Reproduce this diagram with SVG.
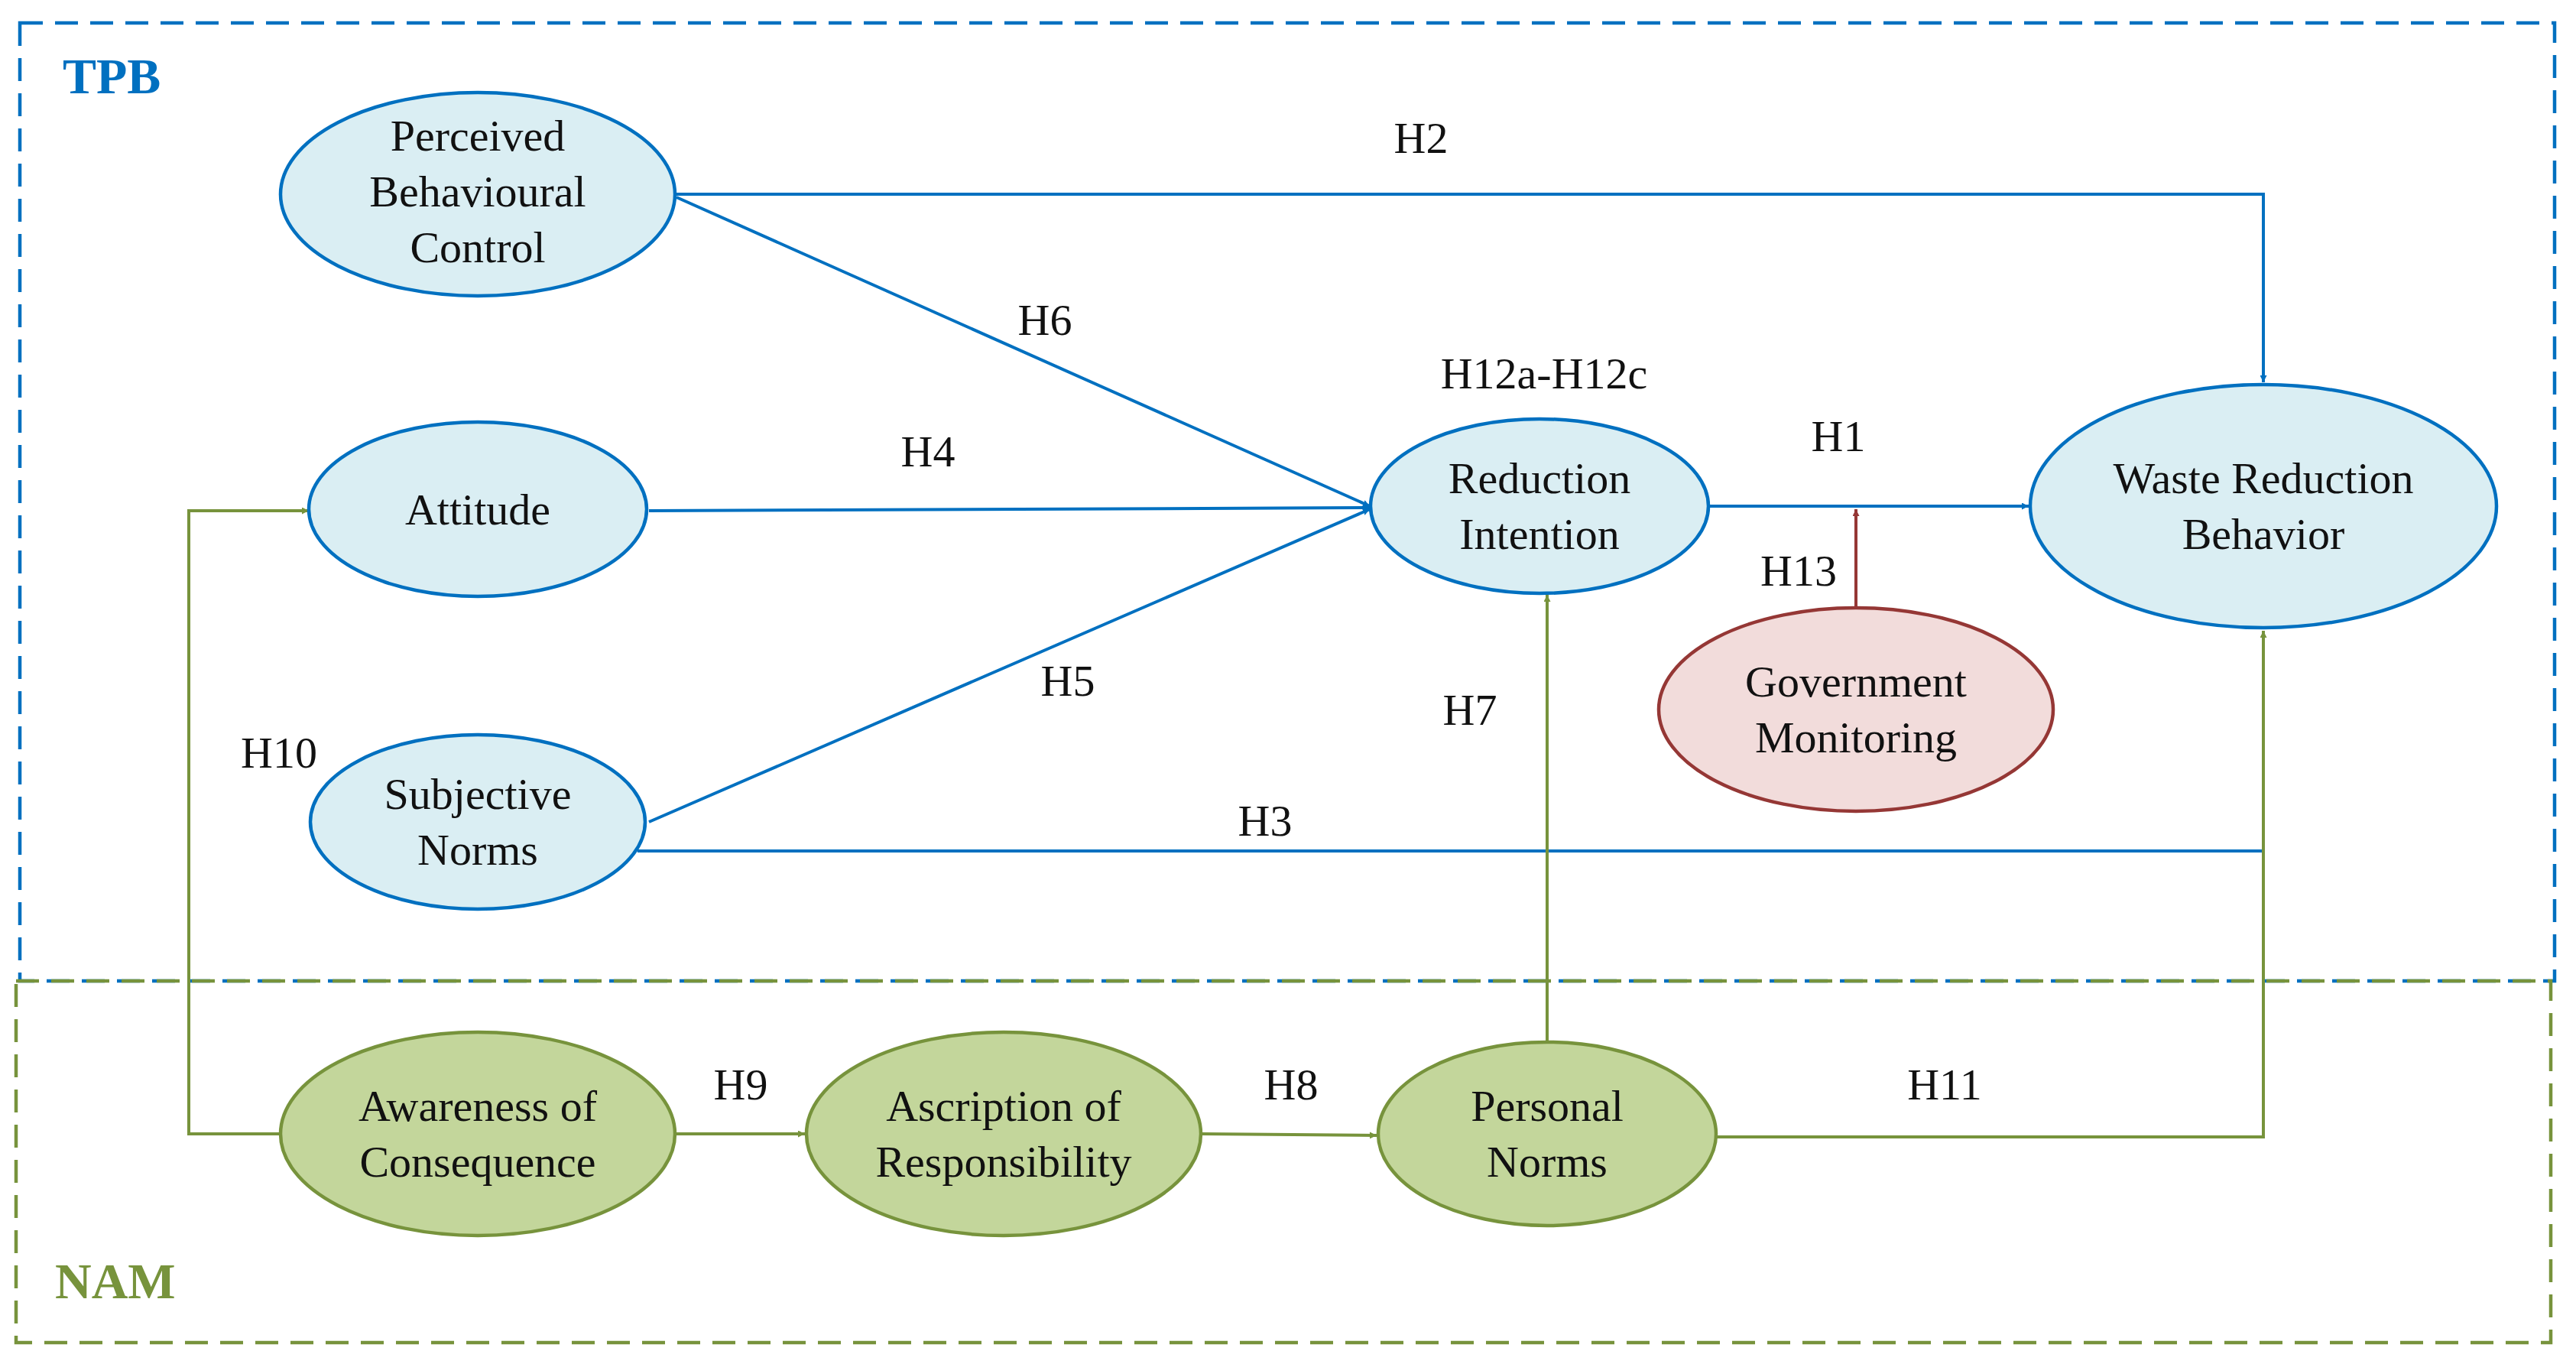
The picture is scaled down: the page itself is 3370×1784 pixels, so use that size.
<svg xmlns="http://www.w3.org/2000/svg" width="3370" height="1784" viewBox="0 0 3370 1784">
<style>
.b{fill:#DAEEF3;stroke:#0070C0;stroke-width:4.5}
.g{fill:#C3D69B;stroke:#77933C;stroke-width:4.5}
.r{fill:#F2DCDB;stroke:#953735;stroke-width:4.5}
.t{font-family:"Liberation Serif",serif;font-size:58px;fill:#111;text-anchor:middle}
.h{font-family:"Liberation Serif",serif;font-size:58px;fill:#111;text-anchor:middle}
.lb{fill:none;stroke:#0070C0;stroke-width:4}
.lg{fill:none;stroke:#77933C;stroke-width:4}
.lr{fill:none;stroke:#953735;stroke-width:4}
</style>
<defs>
<marker id="ab" viewBox="0 0 10 10" refX="10" refY="5" markerWidth="9" markerHeight="9" markerUnits="userSpaceOnUse" orient="auto"><path d="M0,0L10,5L0,10z" fill="#0070C0"/></marker>
<marker id="ag" viewBox="0 0 10 10" refX="10" refY="5" markerWidth="9" markerHeight="9" markerUnits="userSpaceOnUse" orient="auto"><path d="M0,0L10,5L0,10z" fill="#77933C"/></marker>
<marker id="ar" viewBox="0 0 10 10" refX="10" refY="5" markerWidth="9" markerHeight="9" markerUnits="userSpaceOnUse" orient="auto"><path d="M0,0L10,5L0,10z" fill="#953735"/></marker>
</defs>
<style>marker path{}</style>
<rect width="3370" height="1784" fill="#fff"/>
<rect x="26" y="30" width="3316" height="1253" fill="none" stroke="#0070C0" stroke-width="4.5" stroke-dasharray="30,16"/>
<rect x="21" y="1283" width="3316" height="473" fill="none" stroke="#77933C" stroke-width="4.5" stroke-dasharray="30,16"/>
<text x="82" y="122" font-family="Liberation Serif,serif" font-size="66" font-weight="bold" fill="#0070C0">TPB</text>
<text x="72" y="1698" font-family="Liberation Serif,serif" font-size="66" font-weight="bold" fill="#77933C">NAM</text>
<g id="connectors">
<path class="lb" d="M885,254H2961V500" marker-end="url(#ab)" style="--m:0"/>
<path class="lb" d="M885,258L1792,662" marker-end="url(#ab)"/>
<path class="lb" d="M849,668L1792,664" marker-end="url(#ab)"/>
<path class="lb" d="M849,1075L1792,666" marker-end="url(#ab)"/>
<path class="lb" d="M834,1113H2961"/>
<path class="lb" d="M2235,662H2654" marker-end="url(#ab)"/>
<path class="lr" d="M2428,795V666" marker-end="url(#ar)"/>
<path class="lg" d="M2024,1366V778" marker-end="url(#ag)"/>
<path class="lg" d="M2246,1487H2961V825" marker-end="url(#ag)"/>
<path class="lg" d="M370,1483H247V668H404" marker-end="url(#ag)"/>
<path class="lg" d="M885,1483H1053" marker-end="url(#ag)"/>
<path class="lg" d="M1573,1483L1801,1485" marker-end="url(#ag)"/>
</g>
<g id="labels">
<text class="h" x="1859" y="200">H2</text>
<text class="h" x="1367" y="438">H6</text>
<text class="h" x="2020" y="508">H12a-H12c</text>
<text class="h" x="1214" y="610">H4</text>
<text class="h" x="2405" y="590">H1</text>
<text class="h" x="2353" y="766">H13</text>
<text class="h" x="1397" y="910">H5</text>
<text class="h" x="1923" y="948">H7</text>
<text class="h" x="365" y="1004">H10</text>
<text class="h" x="1655" y="1093">H3</text>
<text class="h" x="969" y="1438">H9</text>
<text class="h" x="1689" y="1438">H8</text>
<text class="h" x="2544" y="1438">H11</text>
</g>
<g id="pbc"><ellipse class="b" cx="625" cy="254" rx="258" ry="133"/><text class="t" x="625" y="197">Perceived</text><text class="t" x="625" y="270">Behavioural</text><text class="t" x="625" y="343">Control</text></g>
<g id="attitude"><ellipse class="b" cx="625" cy="666" rx="221" ry="114"/><text class="t" x="625" y="686">Attitude</text></g>
<g id="sn"><ellipse class="b" cx="625" cy="1075" rx="219" ry="114"/><text class="t" x="625" y="1058">Subjective</text><text class="t" x="625" y="1131">Norms</text></g>
<g id="ri"><ellipse class="b" cx="2014" cy="662" rx="221" ry="114"/><text class="t" x="2014" y="645">Reduction</text><text class="t" x="2014" y="718">Intention</text></g>
<g id="wrb"><ellipse class="b" cx="2961" cy="662" rx="305" ry="159"/><text class="t" x="2961" y="645">Waste Reduction</text><text class="t" x="2961" y="718">Behavior</text></g>
<g id="gm"><ellipse class="r" cx="2428" cy="928" rx="258" ry="133"/><text class="t" x="2428" y="911">Government</text><text class="t" x="2428" y="984">Monitoring</text></g>
<g id="ac"><ellipse class="g" cx="625" cy="1483" rx="258" ry="133"/><text class="t" x="625" y="1466">Awareness of</text><text class="t" x="625" y="1539">Consequence</text></g>
<g id="ar"><ellipse class="g" cx="1313" cy="1483" rx="258" ry="133"/><text class="t" x="1313" y="1466">Ascription of</text><text class="t" x="1313" y="1539">Responsibility</text></g>
<g id="pn"><ellipse class="g" cx="2024" cy="1483" rx="221" ry="120"/><text class="t" x="2024" y="1466">Personal</text><text class="t" x="2024" y="1539">Norms</text></g>
</svg>
